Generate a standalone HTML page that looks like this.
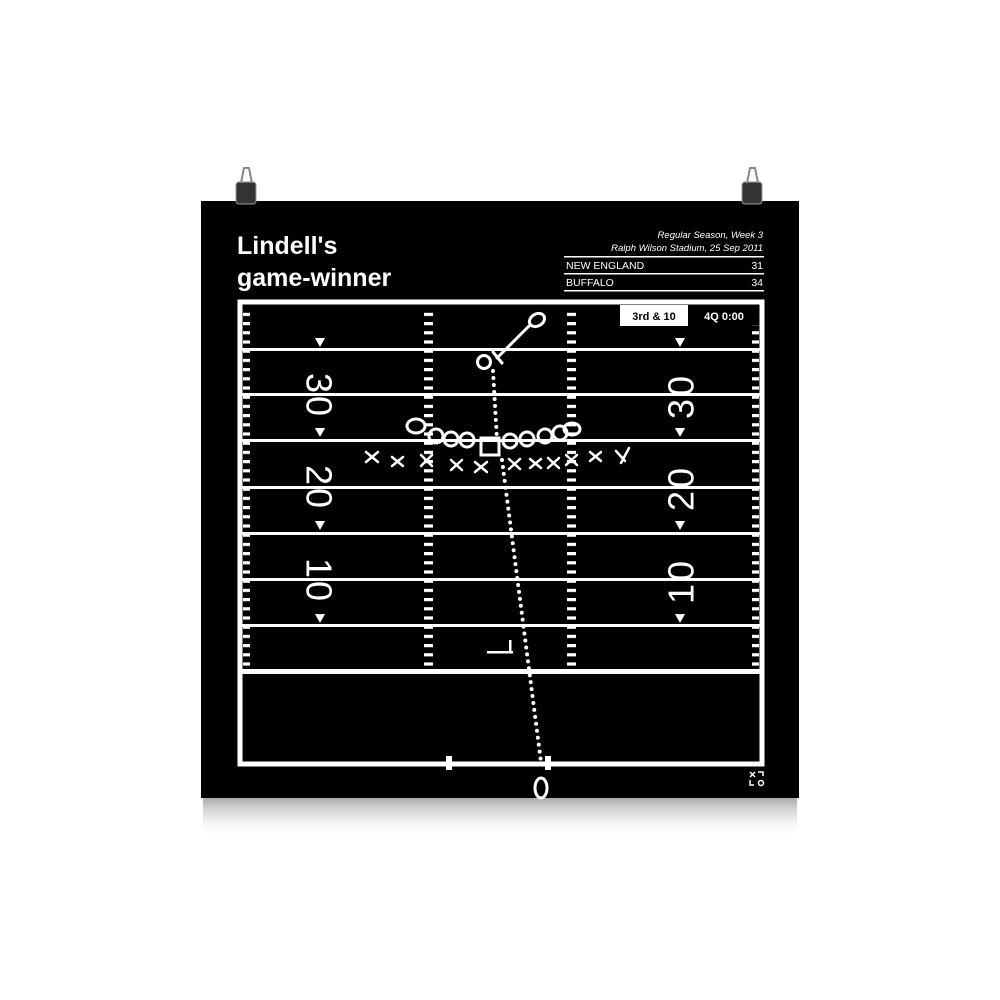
<!DOCTYPE html>
<html><head><meta charset="utf-8"><style>
html,body{margin:0;padding:0;background:#fff;width:1000px;height:1000px;overflow:hidden}
svg{display:block}
text{font-family:"Liberation Sans",sans-serif}
</style></head><body>
<svg width="1000" height="1000" viewBox="0 0 1000 1000" xmlns="http://www.w3.org/2000/svg">
<defs>
<linearGradient id="sh" x1="0" y1="0" x2="0" y2="1">
<stop offset="0" stop-color="#aaa"/><stop offset="1" stop-color="#fff" stop-opacity="0"/>
</linearGradient>
<pattern id="tick" x="0" y="0" width="10" height="9.2" patternUnits="userSpaceOnUse">
<rect x="0" y="0" width="10" height="3.2" fill="#fff"/>
</pattern>
</defs>
<rect x="203" y="798" width="594" height="40" fill="url(#sh)"/>
<rect x="201" y="201" width="598" height="597" fill="#000"/>
<g fill="#333" stroke="#999" stroke-width="1">
<rect x="236" y="182" width="20" height="22" rx="3"/>
<rect x="742" y="182" width="20" height="22" rx="3"/>
</g>
<g stroke="#888" stroke-width="2" fill="none">
<path d="M241 183 L244 168 L249 168 L252 183"/>
<path d="M747 183 L750 168 L755 168 L758 183"/>
</g>
<text x="237" y="254" fill="#fff" font-size="25" font-weight="bold">Lindell's</text>
<text x="237" y="286" fill="#fff" font-size="25" font-weight="bold">game-winner</text>
<text x="763" y="238" fill="#fff" font-size="9.5" font-style="italic" text-anchor="end">Regular Season, Week 3</text>
<text x="763" y="251" fill="#fff" font-size="9.5" font-style="italic" text-anchor="end">Ralph Wilson Stadium, 25 Sep 2011</text>
<g fill="#fff">
<rect x="564" y="256" width="200" height="1.5"/>
<rect x="564" y="273" width="200" height="1.5"/>
<rect x="564" y="290" width="200" height="1.5"/>
</g>
<text x="566" y="269" fill="#fff" font-size="10.5">NEW ENGLAND</text>
<text x="763" y="269" fill="#fff" font-size="10.5" text-anchor="end">31</text>
<text x="566" y="286" fill="#fff" font-size="10.5">BUFFALO</text>
<text x="763" y="286" fill="#fff" font-size="10.5" text-anchor="end">34</text>
<rect x="240" y="302" width="522" height="462" fill="none" stroke="#fff" stroke-width="5"/>
<g fill="#fff">
<rect x="240" y="348" width="522" height="3"/>
<rect x="240" y="393" width="522" height="3"/>
<rect x="240" y="439" width="522" height="3"/>
<rect x="240" y="486" width="522" height="3"/>
<rect x="240" y="532" width="522" height="3"/>
<rect x="240" y="578" width="522" height="3"/>
<rect x="240" y="624" width="522" height="3"/>
<rect x="240" y="669" width="522" height="5"/>
</g>
<g>
<rect x="243" y="307" width="7" height="362" fill="url(#tick)"/>
<rect x="752" y="307" width="7" height="362" fill="url(#tick)"/>
<rect x="424" y="311" width="9" height="358" fill="url(#tick)"/>
<rect x="567" y="311" width="9" height="358" fill="url(#tick)"/>
</g>
<g fill="#fff">
<path d="M315 338 L325 338 L320 347Z"/><path d="M675 338 L685 338 L680 347Z"/>
<path d="M315 428 L325 428 L320 437Z"/><path d="M675 428 L685 428 L680 437Z"/>
<path d="M315 521 L325 521 L320 530Z"/><path d="M675 521 L685 521 L680 530Z"/>
<path d="M315 614 L325 614 L320 623Z"/><path d="M675 614 L685 614 L680 623Z"/>
</g>
<g fill="#fff" font-size="36" letter-spacing="3">
<text transform="translate(319,396) rotate(90)" text-anchor="middle" dominant-baseline="central">30</text>
<text transform="translate(319,488) rotate(90)" text-anchor="middle" dominant-baseline="central">20</text>
<text transform="translate(319,581) rotate(90)" text-anchor="middle" dominant-baseline="central">10</text>
<text transform="translate(681,396) rotate(-90)" text-anchor="middle" dominant-baseline="central">30</text>
<text transform="translate(681,488) rotate(-90)" text-anchor="middle" dominant-baseline="central">20</text>
<text transform="translate(681,581) rotate(-90)" text-anchor="middle" dominant-baseline="central">10</text>
</g>
<rect x="620" y="305" width="68" height="21" fill="#fff"/>
<rect x="689" y="306" width="70" height="19" fill="#000"/>
<text x="654" y="320" font-size="11" font-weight="bold" text-anchor="middle" fill="#000">3rd &amp; 10</text>
<text x="724" y="320" font-size="11" font-weight="bold" text-anchor="middle" fill="#fff">4Q 0:00</text>
<rect x="487" y="651" width="26" height="2.5" fill="#fff"/>
<rect x="509" y="640" width="2.5" height="13" fill="#fff"/>
<rect x="446" y="756" width="6" height="14" fill="#fff"/>
<rect x="545" y="756" width="6" height="14" fill="#fff"/>
<g stroke="#fff" stroke-width="3" fill="none" stroke-linecap="round">
<line x1="497" y1="358" x2="530" y2="325"/>
<line x1="493" y1="352" x2="502" y2="363"/>
<ellipse cx="537" cy="320" rx="8" ry="6" transform="rotate(-30 537 320)"/>
<circle cx="484" cy="362" r="6.5"/>
<ellipse cx="416" cy="426" rx="9" ry="7"/>
<ellipse cx="436" cy="436" rx="7" ry="7"/>
<ellipse cx="451" cy="439" rx="7" ry="7"/>
<ellipse cx="467" cy="440" rx="7" ry="7"/>
<rect x="481" y="438" width="18" height="17"/>
<ellipse cx="510" cy="441" rx="7" ry="7"/>
<ellipse cx="527" cy="439" rx="7" ry="7"/>
<ellipse cx="545" cy="436" rx="7" ry="7"/>
<ellipse cx="560" cy="433" rx="7" ry="7"/>
<ellipse cx="572" cy="429" rx="8" ry="6"/>
<ellipse cx="541" cy="788" rx="6" ry="10"/>
</g>
<g stroke="#fff" stroke-width="2.5" stroke-linecap="round">
<path d="M366 452l12 10M378 452l-12 10"/>
<path d="M392 457l11 9M403 457l-11 9"/>
<path d="M421 455l11 11M432 455l-11 11"/>
<path d="M451 460l11 10M462 460l-11 10"/>
<path d="M475 462l12 10M487 462l-12 10"/>
<path d="M509 459l11 10M520 459l-11 10"/>
<path d="M530 459l11 9M541 459l-11 9"/>
<path d="M548 458l11 10M559 458l-11 10"/>
<path d="M566 455l11 10M577 455l-11 10"/>
<path d="M590 452l11 9M601 452l-11 9"/>
<path d="M616 451l9 10M629 448l-8 15"/>
</g>
<g stroke="#fff" stroke-width="4" stroke-linecap="round" stroke-dasharray="0 7" fill="none">
<path d="M493 371 L497 440"/>
<path d="M502 460 L541 762"/>
</g>
<g stroke="#fff" stroke-width="1.5" fill="none">
<path d="M750 772l5 5M755 772l-5 5"/>
<path d="M758 772h5v4"/>
<path d="M750 780v5h4"/>
<circle cx="761" cy="783" r="2.5"/>
</g>
</svg>
</body></html>
